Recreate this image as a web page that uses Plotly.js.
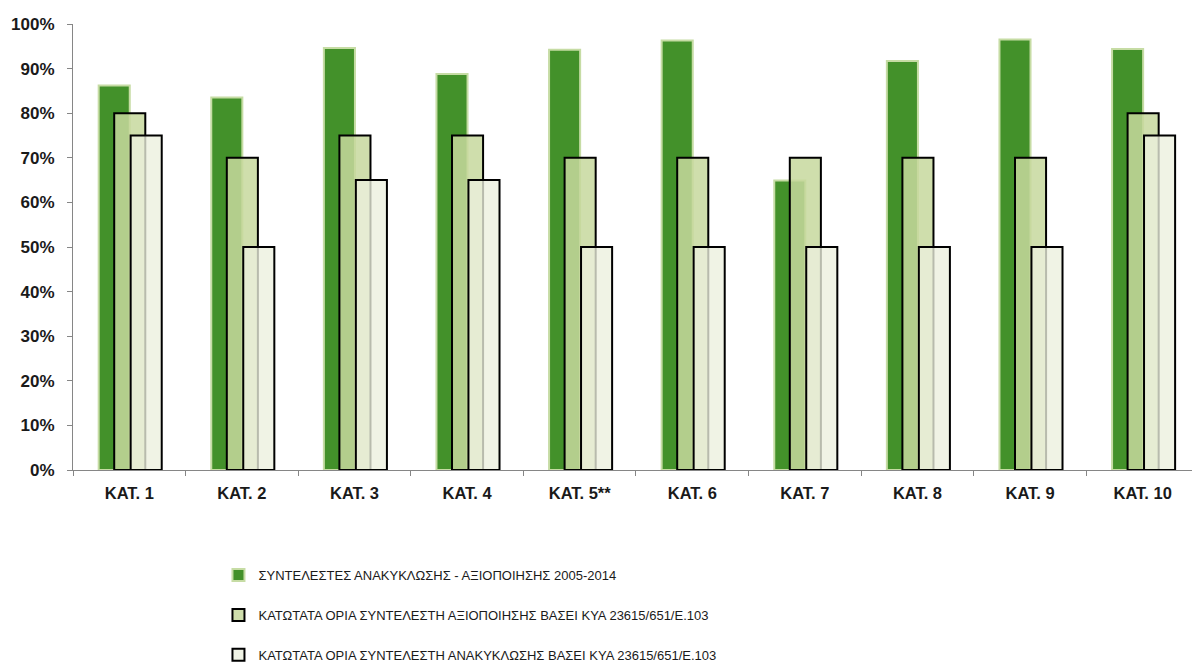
<!DOCTYPE html>
<html>
<head>
<meta charset="utf-8">
<script src="https://cdn.plot.ly/plotly-3.0.1.min.js"></script>
<style>html,body{margin:0;padding:0;background:#fff;overflow:hidden}#chart{width:1192px;height:663px}</style>
</head>
<body>
<div id="chart"></div>
<script>
const categories = ['ΚΑΤ. 1','ΚΑΤ. 2','ΚΑΤ. 3','ΚΑΤ. 4','ΚΑΤ. 5**','ΚΑΤ. 6','ΚΑΤ. 7','ΚΑΤ. 8','ΚΑΤ. 9','ΚΑΤ. 10'];
const recyclingRates = [86.2, 83.5, 94.6, 88.8, 94.2, 96.3, 64.9, 91.7, 96.5, 94.4];
const recoveryMinimum = [80, 70, 75, 75, 70, 70, 70, 70, 70, 80];
const recyclingMinimum = [75, 50, 65, 65, 50, 50, 50, 50, 50, 75];
const seriesNames = [
  'ΣΥΝΤΕΛΕΣΤΕΣ ΑΝΑΚΥΚΛΩΣΗΣ - ΑΞΙΟΠΟΙΗΣΗΣ 2005-2014',
  'ΚΑΤΩΤΑΤΑ ΟΡΙΑ ΣΥΝΤΕΛΕΣΤΗ ΑΞΙΟΠΟΙΗΣΗΣ ΒΑΣΕΙ ΚΥΑ 23615/651/Ε.103',
  'ΚΑΤΩΤΑΤΑ ΟΡΙΑ ΣΥΝΤΕΛΕΣΤΗ ΑΝΑΚΥΚΛΩΣΗΣ ΒΑΣΕΙ ΚΥΑ 23615/651/Ε.103'
];

const W = 0.276;
const traces = [
  {type:'bar', name:seriesNames[0], x:categories, y:recyclingRates, width:W, offset:-0.272,
   marker:{color:'#43912a', line:{color:'#c6dca4', width:2}}, legendgroup:'a'},
  {type:'bar', name:seriesNames[1], x:categories, y:recoveryMinimum, width:W, offset:-0.134,
   marker:{color:'rgba(199,216,157,0.85)', line:{color:'#000000', width:2}}, legendgroup:'b'},
  {type:'bar', name:seriesNames[2], x:categories, y:recyclingMinimum, width:W, offset:0.012,
   marker:{color:'rgba(236,240,222,0.78)', line:{color:'#000000', width:2}}, legendgroup:'c'}
];

const layout = {
  width:1192, height:663,
  margin:{l:73, r:0, t:24, b:193, autoexpand:false},
  paper_bgcolor:'#ffffff', plot_bgcolor:'#ffffff',
  barmode:'overlay',
  showlegend:true,
  font:{family:'"Liberation Sans", Arial, sans-serif', color:'#1a1a1a'},
  xaxis:{
    range:[-0.5, 9.438], showgrid:false, zeroline:false, automargin:false,
    showline:true, linecolor:'#868686', linewidth:1,
    ticks:'outside', ticklen:5, tickcolor:'#868686', tickson:'boundaries', tickangle:0,
    tickfont:{size:16.5, family:'"Liberation Sans", Arial, sans-serif', color:'#1a1a1a', weight:'bold'},
    ticklabelstandoff:8
  },
  yaxis:{
    range:[0,100], dtick:10, ticksuffix:'%', showgrid:false, zeroline:false, automargin:false,
    showline:true, linecolor:'#868686', linewidth:1,
    ticks:'outside', ticklen:5, tickcolor:'#868686',
    tickfont:{size:17, family:'"Liberation Sans", Arial, sans-serif', color:'#1a1a1a', weight:'bold'},
    ticklabelstandoff:9
  },
  legend:{
    orientation:'v', traceorder:'grouped', tracegroupgap:20,
    xref:'paper', yref:'paper', x:0.13, y:-0.202, xanchor:'left', yanchor:'top',
    font:{size:13, color:'#1a1a1a', family:'"Liberation Sans", Arial, sans-serif'},
    bgcolor:'rgba(0,0,0,0)'
  }
};

Plotly.newPlot('chart', traces, layout, {displayModeBar:false, staticPlot:true});
</script>
</body>
</html>
